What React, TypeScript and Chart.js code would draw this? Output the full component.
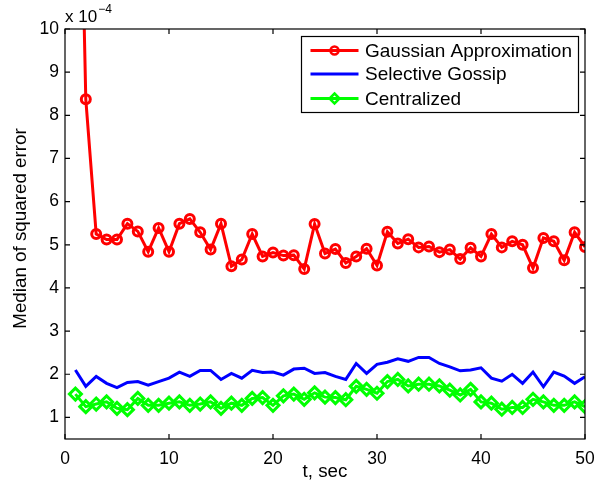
import React, { useEffect, useRef } from 'react';
import { Chart, registerables } from 'chart.js';

Chart.register(...registerables);

const tValues = [1, 2, 3, 4, 5, 6, 7, 8, 9, 10, 11, 12, 13, 14, 15, 16, 17, 18, 19, 20, 21, 22, 23, 24, 25, 26, 27, 28, 29, 30, 31, 32, 33, 34, 35, 36, 37, 38, 39, 40, 41, 42, 43, 44, 45, 46, 47, 48, 49, 50];

const gaussianApprox = [19.5, 8.37, 5.25, 5.12, 5.12, 5.49, 5.31, 4.84, 5.39, 4.84, 5.49, 5.60, 5.29, 4.89, 5.49, 4.50, 4.66, 5.25, 4.73, 4.82, 4.75, 4.76, 4.44, 5.48, 4.80, 4.90, 4.58, 4.73, 4.91, 4.52, 5.30, 5.03, 5.13, 4.94, 4.96, 4.83, 4.89, 4.67, 4.93, 4.73, 5.25, 4.94, 5.08, 5.00, 4.46, 5.16, 5.08, 4.64, 5.29, 4.95];

const selectiveGossip = [2.10, 1.72, 1.95, 1.79, 1.69, 1.81, 1.83, 1.75, 1.83, 1.91, 2.05, 1.95, 2.09, 2.09, 1.88, 2.02, 1.91, 2.09, 2.04, 2.05, 1.98, 2.12, 2.14, 2.02, 2.04, 1.95, 1.88, 2.25, 2.02, 2.23, 2.28, 2.36, 2.30, 2.39, 2.39, 2.25, 2.17, 2.08, 2.10, 2.15, 1.91, 1.84, 2.00, 1.79, 2.05, 1.71, 2.05, 1.96, 1.79, 1.94];

const centralized = [1.54, 1.25, 1.31, 1.36, 1.21, 1.18, 1.44, 1.28, 1.28, 1.33, 1.36, 1.28, 1.31, 1.36, 1.21, 1.33, 1.28, 1.44, 1.46, 1.28, 1.50, 1.54, 1.42, 1.57, 1.47, 1.46, 1.41, 1.72, 1.65, 1.56, 1.83, 1.88, 1.73, 1.77, 1.77, 1.73, 1.63, 1.52, 1.65, 1.36, 1.33, 1.19, 1.23, 1.23, 1.42, 1.36, 1.28, 1.28, 1.36, 1.25];

const xTicks = [0, 10, 20, 30, 40, 50];
const yTicks = [1, 2, 3, 4, 5, 6, 7, 8, 9, 10];

const seriesNames = ['Gaussian Approximation', 'Selective Gossip', 'Centralized'];
const seriesColors = ['#ff0000', '#0000ff', '#00ff00'];

const FONT = 'Liberation Sans, Arial, Helvetica, sans-serif';

const framePlugin = {
  id: 'frame',
  afterDatasetsDraw(chart: any) {
    const { ctx, chartArea } = chart;
    const { left, right, top, bottom } = chartArea;
    const xs = chart.scales.x;
    const ys = chart.scales.y;
    ctx.save();
    ctx.strokeStyle = '#000';
    ctx.lineWidth = 1.2;
    ctx.strokeRect(left, top, right - left, bottom - top);
    const tl = 5;
    ctx.beginPath();
    xTicks.forEach((v) => {
      const px = xs.getPixelForValue(v);
      ctx.moveTo(px, bottom);
      ctx.lineTo(px, bottom - tl);
      ctx.moveTo(px, top);
      ctx.lineTo(px, top + tl);
    });
    yTicks.forEach((v) => {
      const py = ys.getPixelForValue(v);
      ctx.moveTo(left, py);
      ctx.lineTo(left + tl, py);
      ctx.moveTo(right, py);
      ctx.lineTo(right - tl, py);
    });
    ctx.stroke();

    // exponent label
    ctx.fillStyle = '#000';
    ctx.textBaseline = 'alphabetic';
    ctx.textAlign = 'left';
    ctx.font = `17px ${FONT}`;
    ctx.fillText('x 10', left, top - 7.5);
    const w = ctx.measureText('x 10').width;
    ctx.font = `12px ${FONT}`;
    ctx.fillText('\u22124', left + w + 1, top - 16);

    // axis titles
    ctx.font = `18.8px ${FONT}`;
    ctx.textAlign = 'center';
    ctx.textBaseline = 'middle';
    ctx.fillText('t, sec', (left + right) / 2, 472);
    ctx.save();
    ctx.translate(21, 228.5);
    ctx.rotate(-Math.PI / 2);
    ctx.fillText('Median of squared error', 0, 0);
    ctx.restore();

    // legend
    const bx = 301.5, by = 36.5, bw = 277, bh = 76;
    ctx.fillStyle = '#fff';
    ctx.fillRect(bx, by, bw, bh);
    ctx.strokeStyle = '#000';
    ctx.lineWidth = 1.2;
    ctx.strokeRect(bx, by, bw, bh);
    const rows = [50.5, 74, 98.5];
    rows.forEach((ry, i) => {
      ctx.strokeStyle = seriesColors[i];
      ctx.lineWidth = 3;
      ctx.beginPath();
      ctx.moveTo(310.5, ry);
      ctx.lineTo(358.5, ry);
      ctx.stroke();
      if (i === 0) {
        ctx.lineWidth = 2.5;
        ctx.beginPath();
        ctx.arc(334.5, ry, 4, 0, Math.PI * 2);
        ctx.stroke();
      } else if (i === 2) {
        ctx.lineWidth = 2.5;
        ctx.beginPath();
        ctx.moveTo(334.5, ry - 5);
        ctx.lineTo(339.5, ry);
        ctx.lineTo(334.5, ry + 5);
        ctx.lineTo(329.5, ry);
        ctx.closePath();
        ctx.stroke();
      }
      ctx.fillStyle = '#000';
      ctx.font = `19px ${FONT}`;
      ctx.textAlign = 'left';
      ctx.textBaseline = 'middle';
      ctx.fillText(seriesNames[i], 365, ry + 1);
    });
    ctx.restore();
  },
};

export default function App() {
  const ref = useRef<HTMLCanvasElement | null>(null);
  useEffect(() => {
    if (!ref.current) return;
    const mk = (vals: number[]) => tValues.map((t, i) => ({ x: t, y: vals[i] }));
    const chart = new Chart(ref.current, {
      type: 'line',
      data: {
        datasets: [
          {
            label: seriesNames[0],
            data: mk(gaussianApprox),
            borderColor: seriesColors[0],
            backgroundColor: 'rgba(0,0,0,0)',
            borderWidth: 3,
            pointStyle: 'circle',
            pointRadius: 4.5,
            pointBorderWidth: 3,
            pointBorderColor: seriesColors[0],
            pointBackgroundColor: 'rgba(0,0,0,0)',
            tension: 0,
          },
          {
            label: seriesNames[1],
            data: mk(selectiveGossip),
            borderColor: seriesColors[1],
            backgroundColor: 'rgba(0,0,0,0)',
            borderWidth: 3,
            pointRadius: 0,
            tension: 0,
          },
          {
            label: seriesNames[2],
            data: mk(centralized),
            borderColor: seriesColors[2],
            backgroundColor: 'rgba(0,0,0,0)',
            borderWidth: 3,
            pointStyle: 'rectRot',
            pointRadius: 6,
            pointBorderWidth: 3,
            pointBorderColor: seriesColors[2],
            pointBackgroundColor: 'rgba(0,0,0,0)',
            tension: 0,
          },
        ],
      },
      options: {
        responsive: false,
        animation: false,
        events: [],
        layout: { padding: { top: 29, right: 11, left: 0, bottom: 0 } },
        plugins: { legend: { display: false }, tooltip: { enabled: false }, title: { display: false } },
        scales: {
          x: {
            type: 'linear',
            min: 0,
            max: 50,
            grid: { display: false, drawTicks: false },
            border: { display: false },
            afterBuildTicks: (s: any) => { s.ticks = xTicks.map((v) => ({ value: v })); },
            afterFit: (s: any) => { s.height = 47; s.paddingLeft = 0; s.paddingRight = 0; },
            ticks: { color: '#000', padding: 10, maxRotation: 0, font: { family: FONT, size: 17.5 } },
          },
          y: {
            type: 'linear',
            min: 0.5,
            max: 10,
            grid: { display: false, drawTicks: false },
            border: { display: false },
            afterBuildTicks: (s: any) => { s.ticks = yTicks.map((v) => ({ value: v })); },
            afterFit: (s: any) => { s.width = 65; s.paddingTop = 0; s.paddingBottom = 0; },
            ticks: { color: '#000', padding: 6, font: { family: FONT, size: 17.5 } },
          },
        },
      },
      plugins: [framePlugin],
    });
    return () => chart.destroy();
  }, []);
  return (
    <div style={{ position: 'fixed', left: 0, top: 0, width: 596, height: 486, background: '#fff' }}>
      <canvas ref={ref} width={596} height={486} style={{ display: 'block' }} />
    </div>
  );
}
